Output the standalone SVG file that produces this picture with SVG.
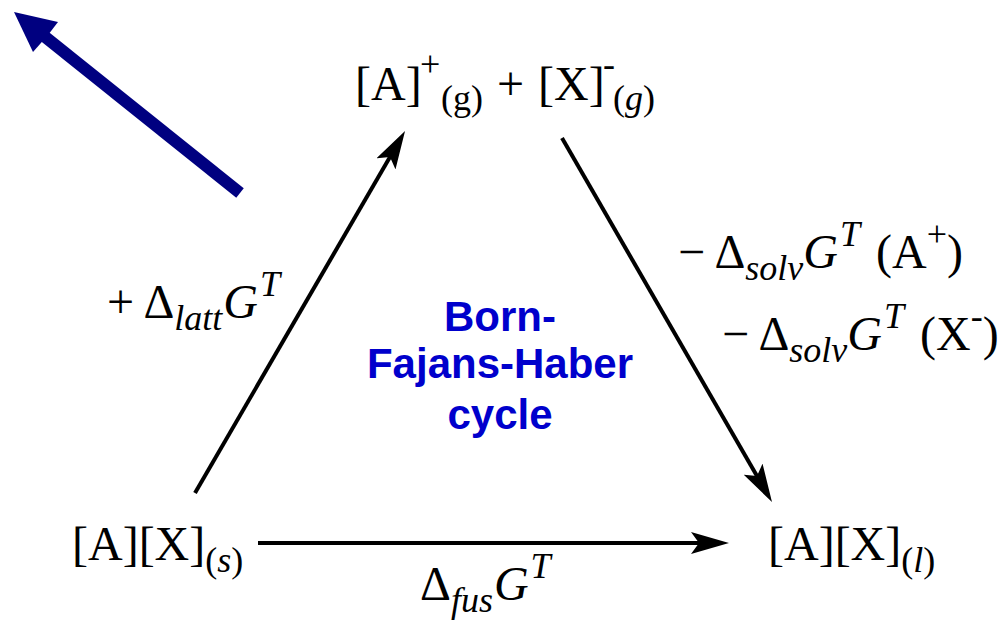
<svg xmlns="http://www.w3.org/2000/svg" width="999" height="623" viewBox="0 0 999 623">
<defs>
<style>
.m{font-family:"Liberation Serif","Times New Roman",serif;font-size:48px;fill:#000}
.i{font-style:italic}
.s{font-size:36px}
.b{font-family:"Liberation Sans",Arial,sans-serif;font-weight:bold;font-size:42px;fill:#0000cc;text-anchor:middle}
.c{stroke:#000;stroke-width:4;fill:none}
</style>
<marker id="ah" markerUnits="userSpaceOnUse" markerWidth="38" markerHeight="22" viewBox="0 0 38 22" refX="12" refY="11" orient="auto">
<path d="M38,11 L0,0 L8,11 L0,22 Z" fill="#000"/>
</marker>
</defs>
<rect width="999" height="623" fill="#fff"/>
<g id="pointer">
<line x1="240" y1="193" x2="44" y2="36" stroke="#000080" stroke-width="12"/>
<polygon points="14,12 58,22 48,35 33,52" fill="#000080"/>
</g>
<g id="connectors">
<line class="c" x1="195" y1="493" x2="392" y2="153.5" marker-end="url(#ah)"/>
<line class="c" x1="562" y1="138" x2="759" y2="479.5" marker-end="url(#ah)"/>
<line class="c" x1="258" y1="543" x2="703" y2="543" marker-end="url(#ah)"/>
</g>
<g id="gas">
<text class="m" y="100"><tspan x="355">[A]</tspan><tspan class="s" x="420" y="76">+</tspan><tspan class="s" x="441" y="110">(g)</tspan><tspan x="497" y="100">+</tspan><tspan x="538">[X]</tspan><tspan class="s" x="603" y="76">-</tspan><tspan class="s" x="613" y="110">(<tspan class="i">g</tspan>)</tspan></text>
</g>
<g id="solid">
<text class="m" x="72" y="560">[A][X]<tspan class="s" dy="12">(<tspan class="i">s</tspan>)</tspan></text>
</g>
<g id="liquid">
<text class="m" x="768" y="560">[A][X]<tspan class="s" dy="12">(<tspan class="i">l</tspan>)</tspan></text>
</g>
<g id="label-latt">
<text class="m" x="107" y="318">+ Δ<tspan class="s i" dy="12">latt</tspan><tspan class="i" dx="1" dy="-12">G</tspan><tspan class="s i" dx="2" dy="-22">T</tspan></text>
</g>
<g id="label-solv">
<text class="m" x="678" y="268">− Δ<tspan class="s i" dy="12">solv</tspan><tspan class="i" dy="-12">G</tspan><tspan class="s i" dx="2" dy="-22">T</tspan><tspan dx="4" dy="22"> (A</tspan><tspan class="s" dy="-22">+</tspan><tspan dy="22">)</tspan></text>
<text class="m" x="722" y="350">− Δ<tspan class="s i" dy="12">solv</tspan><tspan class="i" dy="-12">G</tspan><tspan class="s i" dx="2" dy="-22">T</tspan><tspan dx="4" dy="22"> (X</tspan><tspan class="s" dy="-22">-</tspan><tspan dy="22">)</tspan></text>
</g>
<g id="label-fus">
<text class="m" x="420" y="600">Δ<tspan class="s i" dy="12">fus</tspan><tspan class="i" dx="1" dy="-12">G</tspan><tspan class="s i" dx="2" dy="-22">T</tspan></text>
</g>
<g id="title">
<text class="b" x="500" y="331">Born-</text>
<text class="b" x="500" y="378">Fajans-Haber</text>
<text class="b" x="500" y="429">cycle</text>
</g>
</svg>
